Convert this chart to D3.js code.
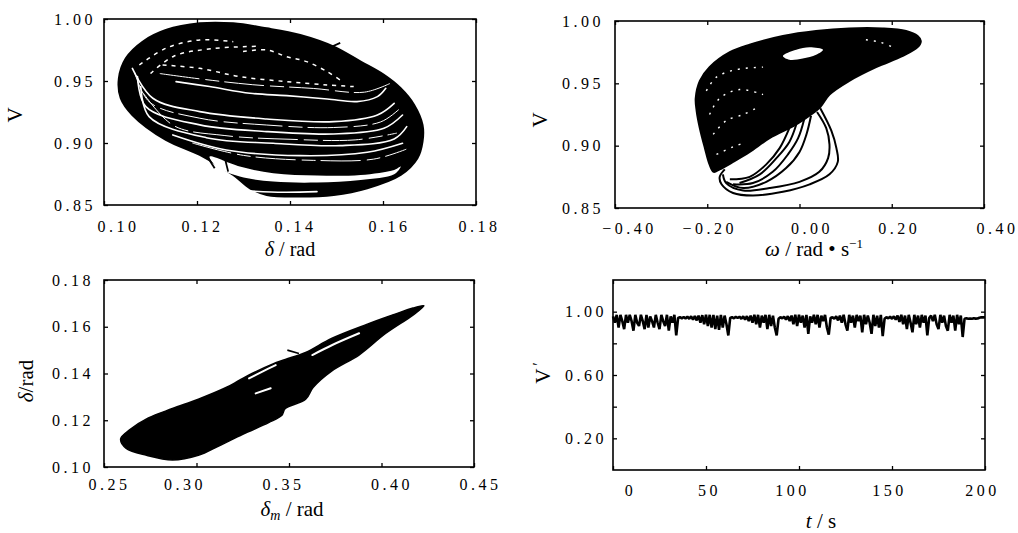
<!DOCTYPE html>
<html lang="en">
<head>
<meta charset="utf-8">
<title>Chaotic attractor portraits</title>
<script src="https://cdn.jsdelivr.net/npm/d3@7"></script>
<style>
  body { margin: 0; background: #fff; }
  svg text { font-family: "Liberation Serif", "Times New Roman", serif; fill: #000; }
</style>
</head>
<body>
<script>
var w = 1018, h = 533;

// ---- panel 1: delta / rad  vs  V ----
var p1XTicks = [0.10, 0.12, 0.14, 0.16, 0.18];
var p1YTicks = [0.85, 0.90, 0.95, 1.00];
var p1Outline = [
  [0.1206,0.9965],[0.1278,0.9965],[0.1350,0.9925],[0.1422,0.9871],[0.1494,0.9777],
  [0.1552,0.9656],[0.1602,0.9549],[0.1638,0.9441],[0.1667,0.9307],[0.1685,0.9146],
  [0.1685,0.9011],[0.1674,0.8877],[0.1638,0.8742],[0.1566,0.8635],[0.1494,0.8581],
  [0.1422,0.8568],[0.1350,0.8581],[0.1314,0.8635],[0.1278,0.8742],[0.1206,0.8904],
  [0.1133,0.9025],[0.1061,0.9226],[0.1036,0.9361],[0.1032,0.9522],[0.1047,0.9683],
  [0.1083,0.9817],[0.1133,0.9911]
];
var p1Gaps = [
  [[0.1155,0.9495],[0.1227,0.9455],[0.1314,0.9401],[0.1393,0.9382],[0.1480,0.9355],[0.1544,0.9334],[0.1588,0.9374],[0.1606,0.9441]],
  [[0.1061,0.9602],[0.1105,0.9361],[0.1206,0.9253],[0.1350,0.9194],[0.1494,0.9172],[0.1588,0.9226],[0.1624,0.9320]],
  [[0.1072,0.9535],[0.1090,0.9293],[0.1206,0.9146],[0.1350,0.9092],[0.1494,0.9073],[0.1602,0.9119],[0.1642,0.9226]],
  [[0.1079,0.9455],[0.1097,0.9213],[0.1220,0.9043],[0.1364,0.8998],[0.1508,0.8979],[0.1624,0.9033],[0.1651,0.9132]],
  [[0.1148,0.9065],[0.1263,0.8944],[0.1422,0.8898],[0.1566,0.8925],[0.1642,0.8998]],
  [[0.1306,0.8614],[0.1386,0.8603],[0.1458,0.8608]]
];
var p1Thin = [
  [[0.1066,0.9570],[0.1098,0.9330],[0.1206,0.9200],[0.1350,0.9145],[0.1494,0.9125],[0.1595,0.9170],[0.1634,0.9270]],
  [[0.1085,0.9400],[0.1150,0.9140],[0.1260,0.9060],[0.1400,0.9030],[0.1540,0.9025],[0.1630,0.9080]],
  [[0.1190,0.9000],[0.1300,0.8900],[0.1450,0.8860],[0.1580,0.8870],[0.1650,0.8950]],
  [[0.1120,0.9560],[0.1200,0.9520],[0.1320,0.9470],[0.1450,0.9440],[0.1560,0.9410],[0.1615,0.9480]]
];
var p1Dashed = [
  [[0.1299,0.9737],[0.1350,0.9750],[0.1393,0.9696],[0.1436,0.9656],[0.1480,0.9575],[0.1508,0.9508]],
  [[0.1126,0.9629],[0.1206,0.9602],[0.1292,0.9535],[0.1393,0.9495],[0.1480,0.9468],[0.1537,0.9455]],
  [[0.1076,0.9629],[0.1133,0.9764],[0.1206,0.9831],[0.1278,0.9817]],
  [[0.1100,0.9560],[0.1150,0.9700],[0.1230,0.9760],[0.1330,0.9780]]
];
var p1Crescent = [
  [0.1227,0.8890],[0.1292,0.8810],[0.1364,0.8756],[0.1458,0.8737],[0.1552,0.8742],[0.1624,0.8783],[0.1638,0.8810],
  [0.1624,0.8748],[0.1552,0.8702],[0.1458,0.8681],[0.1364,0.8689],[0.1292,0.8729],[0.1242,0.8810]
];
var p1Strokes = [
  [[0.1220,0.8904],[0.1238,0.8796]],
  [[0.1260,0.8877],[0.1267,0.8769]],
  [[0.1480,0.9760],[0.1508,0.9808]]
];

// ---- panel 2: omega  vs  V ----
var p2XTicks = [-0.40, -0.20, 0.00, 0.20, 0.40];
var p2YTicks = [0.85, 0.90, 0.95, 1.00];
var p2Outline = [
  [-0.225,0.938],[-0.216,0.952],[-0.195,0.963],[-0.151,0.975],[-0.108,0.981],[-0.036,0.988],
  [0.036,0.992],[0.108,0.994],[0.180,0.994],[0.231,0.992],[0.256,0.988],[0.263,0.984],
  [0.256,0.979],[0.224,0.972],[0.166,0.963],[0.108,0.952],[0.065,0.941],[0.045,0.931],
  [0.025,0.925],[-0.007,0.917],[-0.065,0.906],[-0.108,0.895],[-0.144,0.887],[-0.173,0.881],
  [-0.186,0.879],[-0.195,0.885],[-0.205,0.898],[-0.216,0.914],[-0.223,0.928]
];
var p2Loops = [
  [[0.045,0.930],[0.069,0.912],[0.080,0.898],[0.083,0.887],[0.065,0.877],[0.022,0.869],[-0.036,0.863],[-0.101,0.860],[-0.144,0.862],[-0.169,0.869],[-0.173,0.875],[-0.162,0.881]],
  [[0.038,0.927],[0.058,0.914],[0.065,0.901],[0.062,0.890],[0.043,0.879],[0.000,0.871],[-0.065,0.866],[-0.122,0.864],[-0.159,0.870],[-0.166,0.877]],
  [[0.025,0.924],[0.015,0.909],[0.000,0.895],[-0.029,0.882],[-0.072,0.871],[-0.122,0.866],[-0.159,0.871]],
  [[0.010,0.921],[-0.003,0.906],[-0.025,0.893],[-0.058,0.879],[-0.101,0.870],[-0.144,0.869]],
  [[-0.007,0.917],[-0.022,0.903],[-0.050,0.890],[-0.086,0.877],[-0.130,0.870]],
  [[-0.022,0.914],[-0.043,0.898],[-0.072,0.885],[-0.108,0.875],[-0.151,0.873]]
];
var p2Hole = [
  [-0.036,0.972],[-0.007,0.977],[0.022,0.979],[0.051,0.977],[0.036,0.973],[0.007,0.970],[-0.022,0.969]
];
var p2Dashed = [
  [[-0.202,0.944],[-0.180,0.955],[-0.137,0.961],[-0.079,0.963]],
  [[-0.195,0.925],[-0.173,0.938],[-0.130,0.945],[-0.079,0.941]],
  [[-0.187,0.909],[-0.159,0.920],[-0.122,0.925],[-0.094,0.930]],
  [[-0.180,0.893],[-0.144,0.899],[-0.122,0.902]],
  [[0.144,0.985],[0.175,0.983],[0.202,0.979]]
];

// ---- panel 3: delta_m  vs  delta ----
var p3XTicks = [0.25, 0.30, 0.35, 0.40, 0.45];
var p3YTicks = [0.10, 0.12, 0.14, 0.16, 0.18];
var p3Outline = [
  [0.423,0.169],[0.417,0.168],[0.406,0.165],[0.392,0.161],[0.373,0.155],[0.359,0.149],
  [0.348,0.146],[0.341,0.144],[0.330,0.140],[0.323,0.137],[0.316,0.134],[0.301,0.129],
  [0.287,0.125],[0.274,0.121],[0.264,0.116],[0.259,0.112],[0.262,0.108],[0.273,0.105],
  [0.287,0.103],[0.301,0.105],[0.312,0.109],[0.325,0.114],[0.339,0.119],[0.346,0.122],
  [0.348,0.125],[0.359,0.129],[0.363,0.134],[0.373,0.141],[0.388,0.148],[0.402,0.157],
  [0.417,0.165]
];
var p3Gaps = [
  [[0.3284,0.1379],[0.3356,0.1408],[0.3428,0.1436]],
  [[0.3626,0.1479],[0.3734,0.1522],[0.3879,0.1572]],
  [[0.3320,0.1315],[0.3401,0.1337]]
];
var p3Strokes = [
  [[0.3491,0.1500],[0.3554,0.1486]]
];

// ---- panel 4: t  vs  V' ----
var p4XTicks = [0, 50, 100, 150, 200];
var p4YTicks = [0.20, 0.40, 0.60, 0.80, 1.00];
var p4YLabels = [0.20, 0.60, 1.00];
var p4Step = 1; // seconds between readings
var p4V = [
  0.97,0.93,0.98,0.90,0.98,0.94,0.89,0.98,0.93,0.98, 0.94,0.88,0.98,0.93,0.91,0.98,0.94,0.89,0.98,0.90,
  0.97,0.94,0.90,0.98,0.93,0.89,0.98,0.94,0.91,0.98, 0.88,0.97,0.93,0.98,0.85,0.96,0.965,0.958,0.966,0.957,
  0.968,0.955,0.97,0.95,0.972,0.945,0.975,0.93,0.978,0.92, 0.98,0.91,0.98,0.90,0.98,0.89,0.975,0.885,0.98,0.90,
  0.975,0.92,0.85,0.96,0.965,0.958,0.967,0.96,0.968,0.955, 0.97,0.95,0.972,0.94,0.975,0.93,0.98,0.92,0.98,0.90,
  0.975,0.93,0.98,0.89,0.98,0.91,0.975,0.90,0.85,0.955, 0.965,0.958,0.968,0.95,0.972,0.94,0.975,0.92,0.98,0.91,
  0.98,0.93,0.975,0.90,0.98,0.86,0.97,0.93,0.98,0.92, 0.98,0.90,0.975,0.94,0.98,0.90,0.855,0.96,0.965,0.955,
  0.97,0.945,0.975,0.93,0.98,0.92,0.88,0.98,0.93,0.975, 0.90,0.98,0.94,0.975,0.87,0.98,0.92,0.975,0.93,0.86,
  0.98,0.91,0.975,0.90,0.98,0.845,0.955,0.965,0.958,0.968, 0.955,0.97,0.95,0.975,0.935,0.98,0.92,0.975,0.89,0.98,
  0.93,0.87,0.98,0.92,0.975,0.90,0.98,0.93,0.975,0.85, 0.96,0.975,0.94,0.98,0.92,0.89,0.98,0.93,0.975,0.91,
  0.88,0.98,0.93,0.975,0.88,0.98,0.92,0.975,0.84,0.955, 0.958,0.955,0.957,0.955,0.958,0.956,0.957,0.962,0.965,0.964,
  0.965
];

var svg = d3.select("body").append("svg")
  .attr("width", w)
  .attr("height", h);

function panel(box, xDom, yDom) {
  var x = d3.scaleLinear().domain(xDom).range([box.left, box.right]);
  var y = d3.scaleLinear().domain(yDom).range([box.bottom, box.top]);
  return { g: svg.append("g"), x: x, y: y, box: box };
}

function styleLabels(sel) {
  sel.attr("font-family", null).attr("font-size", null);
  sel.selectAll("text")
     .attr("font-size", "16px")
     .style("letter-spacing", "3.5px")
     .attr("fill", "#000");
  sel.selectAll("line").attr("stroke", "#000").attr("stroke-width", 1.3);
  sel.select(".domain").remove();
}

// frame box + inward ticks on all four sides
function frame(p, o) {
  var b = p.box;
  p.g.append("g")
     .attr("transform", "translate(0," + b.bottom + ")")
     .call(d3.axisBottom(p.x).tickValues(o.xTicks).tickSize(-4).tickPadding(o.xPad).tickFormat(o.xFmt))
     .call(styleLabels)
     .selectAll("text").attr("dx", function(d, i) { return o.xShift[i] + 2; });
  p.g.append("g")
     .attr("transform", "translate(0," + b.top + ")")
     .call(d3.axisTop(p.x).tickValues(o.xTicks).tickSize(-4).tickFormat(""))
     .call(styleLabels);
  p.g.append("g")
     .attr("transform", "translate(" + b.left + ",0)")
     .call(d3.axisLeft(p.y).tickValues(o.yTicks).tickSize(-4).tickPadding(o.yPad).tickFormat(o.yFmt))
     .call(styleLabels);
  p.g.append("g")
     .attr("transform", "translate(" + b.right + ",0)")
     .call(d3.axisRight(p.y).tickValues(o.yTicks).tickSize(-4).tickFormat(""))
     .call(styleLabels);
  p.g.append("rect")
     .attr("x", b.left).attr("y", b.top)
     .attr("width", b.right - b.left).attr("height", b.bottom - b.top)
     .attr("fill", "none").attr("stroke", "#000").attr("stroke-width", 1.6);
}

function lineGen(p, curve) {
  return d3.line().x(function(d) { return p.x(d[0]); }).y(function(d) { return p.y(d[1]); }).curve(curve);
}

var f2 = d3.format(".2f");

// ---------- panel 1 ----------
var p1 = panel({ left: 104, right: 476, top: 19, bottom: 205 }, [0.10, 0.18], [0.85, 1.00]);
var p1Closed = lineGen(p1, d3.curveCatmullRomClosed);
var p1Open = lineGen(p1, d3.curveCatmullRom);
p1.g.append("path").attr("d", p1Closed(p1Outline))
    .attr("fill", "#000").attr("stroke", "#000").attr("stroke-width", 2);
p1.g.selectAll(".gap").data(p1Gaps).enter().append("path")
    .attr("d", p1Open).attr("fill", "none").attr("stroke", "#fff")
    .attr("stroke-width", 1.6).attr("stroke-linecap", "round");
p1.g.selectAll(".thin").data(p1Thin).enter().append("path")
    .attr("d", p1Open).attr("fill", "none").attr("stroke", "#fff")
    .attr("stroke-width", 1).attr("stroke-dasharray", "40,6,14,5");
p1.g.selectAll(".dash").data(p1Dashed).enter().append("path")
    .attr("d", p1Open).attr("fill", "none").attr("stroke", "#fff")
    .attr("stroke-width", 1.5).attr("stroke-dasharray", "4,5");
p1.g.append("path").attr("d", p1Closed(p1Crescent)).attr("fill", "#fff");
p1.g.selectAll(".stroke").data(p1Strokes).enter().append("path")
    .attr("d", lineGen(p1, d3.curveLinear)).attr("fill", "none")
    .attr("stroke", "#000").attr("stroke-width", 1.8);
frame(p1, { xTicks: p1XTicks, yTicks: p1YTicks, xFmt: f2, yFmt: f2, xPad: 16, yPad: 8,
            xShift: [12, 3, 3, 4, 1] });

// ---------- panel 2 ----------
var p2 = panel({ left: 615, right: 984, top: 21, bottom: 208 }, [-0.40, 0.40], [0.85, 1.00]);
var p2Closed = lineGen(p2, d3.curveCatmullRomClosed);
var p2Open = lineGen(p2, d3.curveCatmullRom);
p2.g.append("path").attr("d", p2Closed(p2Outline))
    .attr("fill", "#000").attr("stroke", "#000").attr("stroke-width", 2);
p2.g.selectAll(".loop").data(p2Loops).enter().append("path")
    .attr("d", p2Open).attr("fill", "none").attr("stroke", "#000").attr("stroke-width", 2);
p2.g.append("path").attr("d", p2Closed(p2Hole)).attr("fill", "#fff");
p2.g.selectAll(".dash").data(p2Dashed).enter().append("path")
    .attr("d", p2Open).attr("fill", "none").attr("stroke", "#fff")
    .attr("stroke-width", 1.4).attr("stroke-dasharray", "2,6");
frame(p2, { xTicks: p2XTicks, yTicks: p2YTicks, xFmt: f2, yFmt: f2, xPad: 15, yPad: 11,
            xShift: [12, 0, 10, 5, 11] });

// ---------- panel 3 ----------
var p3 = panel({ left: 104, right: 474, top: 280, bottom: 467 }, [0.25, 0.45], [0.10, 0.18]);
var p3Open = lineGen(p3, d3.curveCatmullRom);
p3.g.append("path").attr("d", lineGen(p3, d3.curveCatmullRomClosed)(p3Outline))
    .attr("fill", "#000").attr("stroke", "#000").attr("stroke-width", 1.5);
p3.g.selectAll(".gap").data(p3Gaps).enter().append("path")
    .attr("d", p3Open).attr("fill", "none").attr("stroke", "#fff")
    .attr("stroke-width", 2).attr("stroke-linecap", "round");
p3.g.selectAll(".stroke").data(p3Strokes).enter().append("path")
    .attr("d", lineGen(p3, d3.curveLinear)).attr("fill", "none")
    .attr("stroke", "#000").attr("stroke-width", 1.6);
frame(p3, { xTicks: p3XTicks, yTicks: p3YTicks, xFmt: f2, yFmt: f2, xPad: 12, yPad: 10,
            xShift: [3, -14, -8, 8, 4] });

// ---------- panel 4 ----------
var p4 = panel({ left: 613, right: 985, top: 280, bottom: 470 }, [0, 200], [0, 1.2]);
p4.g.append("path")
    .datum(p4V)
    .attr("d", d3.line()
      .x(function(d, i) { return p4.x(i * p4Step); })
      .y(function(d) { return p4.y(d); }))
    .attr("fill", "none").attr("stroke", "#000").attr("stroke-width", 2.6)
    .attr("stroke-linejoin", "bevel");
frame(p4, {
  xTicks: p4XTicks, yTicks: p4YTicks,
  xFmt: d3.format("d"),
  yFmt: function(d) { return p4YLabels.indexOf(d) >= 0 ? f2(d) : ""; },
  xPad: 15, yPad: 6, xShift: [15, 1, -9, -5, -5]
});

// ---------- axis titles ----------
function title(x, y, rot, size) {
  return svg.append("text").attr("font-size", (size || 21) + "px")
    .attr("text-anchor", "middle")
    .attr("transform", "translate(" + x + "," + y + ")" + (rot ? " rotate(-90)" : ""));
}

var t1 = title(290, 256, false, 20);
t1.append("tspan").attr("font-style", "italic").text("δ");
t1.append("tspan").text(" / rad");

title(22, 115, true).text("V");

var t2 = title(814, 256, false);
t2.append("tspan").attr("font-style", "italic").text("ω");
t2.append("tspan").text(" / rad • s");
t2.append("tspan").attr("font-size", "13px").attr("dy", -8).text("−1");

title(547, 120, true).text("V");

var t3 = title(33, 381, true);
t3.append("tspan").attr("font-style", "italic").text("δ");
t3.append("tspan").text("/rad");

var t4 = title(292, 516, false);
t4.append("tspan").attr("font-style", "italic").text("δ");
t4.append("tspan").attr("font-style", "italic").attr("font-size", "14px").attr("dy", 4).text("m");
t4.append("tspan").attr("dy", -4).text(" / rad");

var t5 = title(550, 373, true);
t5.append("tspan").text("V");
t5.append("tspan").attr("font-size", "16px").attr("dx", 3).attr("dy", -6).text("′");

var t6 = title(821, 528, false);
t6.append("tspan").attr("font-style", "italic").text("t");
t6.append("tspan").text(" / s");
</script>
</body>
</html>
